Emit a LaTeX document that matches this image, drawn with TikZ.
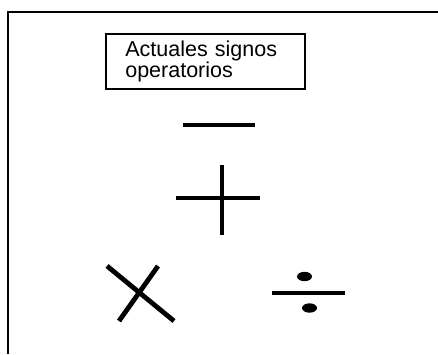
\documentclass[tikz,border=0pt]{standalone}
\usepackage{fontspec}
\setmainfont{Liberation Sans}
\usetikzlibrary{positioning}
\tikzset{
  every picture/.style={x=1pt, y=-1pt, line join=miter},
  % Marco exterior
  marco/.style={line width=2pt},
  % Cartel con el titulo
  cartel/.style={draw, line width=1.6pt, anchor=north west, align=left,
    text width=160pt, inner xsep=19.5pt, inner ysep=7pt, minimum height=52pt,
    font=\fontsize{21.5}{19.5}\selectfont},
  % Trazos de los signos
  signo/.style={line width=4.8pt, line cap=butt},
  punto/.style={fill, x radius=7.5pt, y radius=4.7pt},
}
\begin{document}
\begin{tikzpicture}
  \useasboundingbox (0,0) rectangle (438,354);
  % marco (solo lados superior e izquierdo)
  \draw[marco] (438,12) -- (8,12) -- (8,354);
  % titulo
  \node[cartel] (titulo) at (105,33) {Actuales signos\\operatorios};
  % menos
  \draw[signo] (183,125) -- (255,125);
  % mas
  \draw[signo] (176,198) -- (260,198);
  \draw[signo] (222,165) -- (222,235);
  % por
  \draw[signo] (107,266) -- (174,321);
  \draw[signo] (158,266) -- (119,321);
  % dividido
  \draw[signo] (272,293) -- (345,293);
  \fill[punto] (304.5,276.5) ellipse [];
  \fill[punto] (309.5,308) ellipse [];
\end{tikzpicture}
\end{document}
